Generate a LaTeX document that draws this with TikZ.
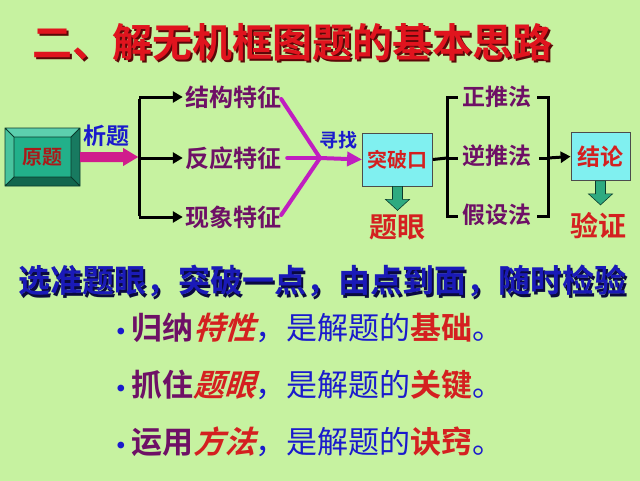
\documentclass[tikz,border=0pt]{standalone}
\usepackage{fontspec}
\usetikzlibrary{arrows.meta}
\newfontfamily\cjk{Noto Sans CJK SC}[BoldFont={Noto Sans CJK SC Bold}]
\newfontfamily\cjkit{Noto Sans CJK SC Bold}[FakeSlant=0.3]
\definecolor{bgtop}{HTML}{C6F2A0}
\definecolor{bgmid}{HTML}{FCFBCC}
\definecolor{bgbot}{HTML}{C6F2A0}
\definecolor{ttlred}{HTML}{E0141E}
\definecolor{shdred}{HTML}{5A0808}
\definecolor{navy}{HTML}{1A1AB8}
\definecolor{navysh}{HTML}{0A0A40}
\definecolor{txtblue}{HTML}{1A1ACC}
\definecolor{purp}{HTML}{6E1066}
\definecolor{magline}{HTML}{C01EC0}
\definecolor{pinkarr}{HTML}{D01C8C}
\definecolor{boxred}{HTML}{D42020}
\definecolor{cyanbox}{HTML}{80F0F0}
\definecolor{grnface}{HTML}{22B08A}
\definecolor{grnlight}{HTML}{5CCFAE}
\definecolor{grnlight2}{HTML}{48C49E}
\definecolor{grndark}{HTML}{187A60}
\definecolor{grndark2}{HTML}{12664E}
\definecolor{grnedge}{HTML}{0A3A2C}
\definecolor{arrgreen}{HTML}{2EAA80}
\tikzset{
  fs/.style={font=\cjk\bfseries\fontsize{#1}{#1}\selectfont},
  feat/.style={fs=24, text=purp, inner sep=2pt},
  meth/.style={fs=23, text=purp, inner sep=2pt},
  lab/.style={fs=#1, text=txtblue, inner sep=0pt},
  cbox/.style={draw=black!70, line width=0.8pt, fill=cyanbox, text=boxred, inner sep=0pt},
  bigred/.style={fs=28, text=boxred, inner sep=0pt},
  blk/.style={line width=3pt, black},
  blkarr/.style={blk, -{Triangle[length=10pt,width=11pt]}},
  mag/.style={line width=4pt, magline, line cap=round},
  bul/.style={inner sep=0pt, anchor=west, font=\cjk\fontsize{31}{31}\selectfont},
}
\newcommand{\grnarrow}[2]{% top point, length
  \filldraw[fill=arrgreen, draw=grnedge, line width=0.6pt]
    (#1) ++(-5,0) -- ++(0,#2-11) -- ++(-7,0) -- ++(12,11) -- ++(12,-11) -- ++(-7,0) -- ++(0,-#2+11) -- cycle;}
\newcommand{\bdot}{\textcolor{txtblue}{{\normalfont\fontsize{30}{30}\selectfont\textbullet}}}
\begin{document}
\begin{tikzpicture}[x=1pt,y=-1pt]
\useasboundingbox (0,0) rectangle (640,480);
\shade[top color=bgtop, middle color=bgmid, bottom color=bgbot] (0,0) rectangle (640,480);

% title
\node[fs=40, text=shdred, inner sep=0] at (294.5,44.5) {二、解无机框图题的基本思路};
\node[fs=40, text=ttlred, inner sep=0] (title) at (292,42) {二、解无机框图题的基本思路};

% yuanti beveled box
\node[minimum width=75pt, minimum height=58pt, inner sep=0] (yt) at (42.5,157) {};
\fill[grnlight] (5,128) -- (80,128) -- (71,137) -- (14,137) -- cycle;
\fill[grnlight2] (5,128) -- (14,137) -- (14,177) -- (5,186) -- cycle;
\fill[grndark] (80,128) -- (80,186) -- (71,177) -- (71,137) -- cycle;
\fill[grndark2] (5,186) -- (80,186) -- (71,177) -- (14,177) -- cycle;
\fill[grnface] (14,137) rectangle (71,177);
\draw[grnedge, line width=0.8pt] (5,128) rectangle (80,186) (14,137) rectangle (71,177)
  (5,128) -- (14,137) (80,128) -- (71,137) (80,186) -- (71,177) (5,186) -- (14,177);
\node[fs=20, text=boxred!80!black, inner sep=0] at (yt) {原题};

% pink arrow
\fill[pinkarr] (yt.east) ++(0,-5) -- ++(43,0) -- ++(0,-4) -- ++(15,9) -- ++(-15,9) -- ++(0,-4) -- ++(-43,0) -- cycle;
\node[lab=23] (xt) at (106,136) {析题};

% features
\node[feat] (f1) at (233,97) {结构特征};
\node[feat] (f2) at (233,158) {反应特征};
\node[feat] (f3) at (233,217) {现象特征};
\coordinate (b1) at (139,97);
\coordinate (b2) at (139,158);
\coordinate (b3) at (139,217);
\draw[blk] ([yshift=-1.5pt]b1) -- ([yshift=1.5pt]b3);
\draw[blkarr] (b1) -- (f1.west);
\draw[blkarr] (b2) -- (f2.west);
\draw[blkarr] (b3) -- (f3.west);

% magenta converging lines
\coordinate (m) at (320,158);
\draw[mag] (f1.east) ++(-2,2) -- (m);
\draw[mag] (f2.east) ++(4,0) -- (m);
\draw[mag] (f3.east) ++(-2,-2) -- (m);
\node[cbox, minimum width=70pt, minimum height=53pt, fs=20, text=boxred] (tpk) at (397.5,159.5) {突破口};
\draw[line width=4pt, magline, -{Triangle[length=15pt,width=14pt]}] (m) -- (tpk.west);
\node[lab=19] (xz) at (338,140) {寻找};

% tiyan
\grnarrow{tpk.south}{24}
\node[bigred] (ty) at (397,227) {题眼};

% methods
\node[meth] (p1) at (497,97) {正推法};
\node[meth] (p2) at (497,156) {逆推法};
\node[meth] (p3) at (497,215) {假设法};
\coordinate (l1) at (447,97);
\coordinate (l2) at (447,158);
\coordinate (l3) at (447,216);
\coordinate (r1) at (548,97);
\coordinate (r2) at (548,158);
\coordinate (r3) at (548,216);
\draw[blk] (tpk.east) -- (l2);
\draw[blk] ([xshift=11pt]l1) -- (l1) -- (l3) -- ([xshift=11pt]l3);
\draw[blk] (l2) -- ([xshift=11pt]l2);
\draw[blk] ([xshift=-11pt]r1) -- (r1) -- (r3) -- ([xshift=-11pt]r3);
\draw[blk] ([xshift=-9pt]r2) -- (r2);
\node[cbox, minimum width=59pt, minimum height=48pt, fs=23, text=boxred] (jl) at (600.5,156.5) {结论};
\draw[blkarr] (r2) -- (jl.west);
\grnarrow{jl.south}{24}
\node[bigred] (yz) at (598,226) {验证};

% slogan
\node[fs=32, text=navysh, inner sep=0] at (324.5,283.5) {选准题眼，突破一点，由点到面，随时检验};
\node[fs=32, text=navy, inner sep=0] (sl) at (323,281) {选准题眼，突破一点，由点到面，随时检验};

% bullets
\node[bul] (u1) at (110,328) {\bdot\textcolor{purp}{\bfseries 归纳}\textcolor{boxred}{\cjkit 特性}\textcolor{txtblue}{，是解题的}\textcolor{boxred}{\bfseries 基础}\textcolor{txtblue}{。}};
\node[bul] (u2) at (110,385) {\bdot\textcolor{purp}{\bfseries 抓住}\textcolor{boxred}{\cjkit 题眼}\textcolor{txtblue}{，是解题的}\textcolor{boxred}{\bfseries 关键}\textcolor{txtblue}{。}};
\node[bul] (u3) at (110,442) {\bdot\textcolor{purp}{\bfseries 运用}\textcolor{boxred}{\cjkit 方法}\textcolor{txtblue}{，是解题的}\textcolor{boxred}{\bfseries 诀窍}\textcolor{txtblue}{。}};
\end{tikzpicture}
\end{document}
